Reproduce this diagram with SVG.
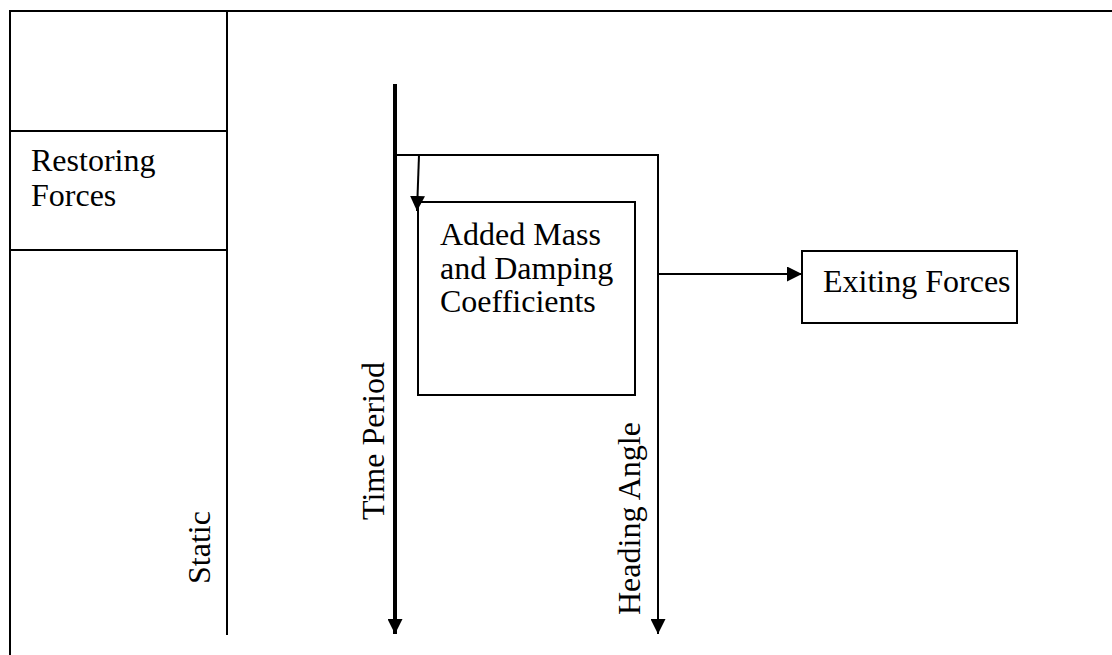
<svg xmlns="http://www.w3.org/2000/svg" width="1112" height="655" viewBox="0 0 1112 655">
  <style>
    .lbl { font-family: "Liberation Serif", "Times New Roman", serif; font-size: 32px; fill: #000; }
    .frame { stroke: #000; stroke-width: 2; fill: none; }
    .box { stroke: #000; stroke-width: 2; fill: #fff; }
    .conn { stroke: #000; stroke-width: 2; fill: none; }
    .thick { stroke: #000; stroke-width: 4; fill: none; }
  </style>
  <defs>
    <marker id="arrow" viewBox="0 0 10 10" refX="10" refY="5" markerWidth="15" markerHeight="15" markerUnits="userSpaceOnUse" orient="auto">
      <path d="M0,0 L10,5 L0,10 Z" fill="#000"/>
    </marker>
  </defs>
  <rect width="1112" height="655" fill="#fff"/>

  <!-- table frame -->
  <g id="frame">
    <line class="frame" x1="9" y1="11" x2="1112" y2="11"/>
    <line class="frame" x1="10" y1="10" x2="10" y2="655"/>
    <line class="frame" x1="227" y1="10" x2="227" y2="635"/>
  </g>

  <g id="restoring">
    <rect class="box" x="10" y="131" width="217" height="119"/>
    <text class="lbl" x="31" y="171">Restoring</text>
    <text class="lbl" x="31" y="206">Forces</text>
  </g>

  <g id="static">
    <text class="lbl" transform="translate(210,584) rotate(-90)">Static</text>
  </g>

  <g id="added-mass">
    <rect class="box" x="418" y="202" width="217" height="193"/>
    <text class="lbl" x="440" y="245">Added Mass</text>
    <text class="lbl" x="440" y="279">and Damping</text>
    <text class="lbl" x="440" y="312">Coefficients</text>
  </g>

  <g id="exiting">
    <rect class="box" x="802" y="251" width="215" height="72"/>
    <text class="lbl" x="823" y="292">Exiting Forces</text>
  </g>

  <g id="time-period">
    <text class="lbl" transform="translate(384,520) rotate(-90)">Time Period</text>
  </g>

  <g id="heading-angle">
    <text class="lbl" transform="translate(640,615) rotate(-90)">Heading Angle</text>
  </g>

  <!-- connectors -->
  <g id="connectors">
    <line class="thick" x1="395" y1="84" x2="395" y2="634" marker-end="url(#arrow)"/>
    <polyline class="conn" points="395,155 658,155 658,634" marker-end="url(#arrow)"/>
    <line class="conn" x1="419" y1="155" x2="417" y2="211" marker-end="url(#arrow)"/>
    <line class="conn" x1="658" y1="274" x2="802" y2="274" marker-end="url(#arrow)"/>
  </g>
</svg>
